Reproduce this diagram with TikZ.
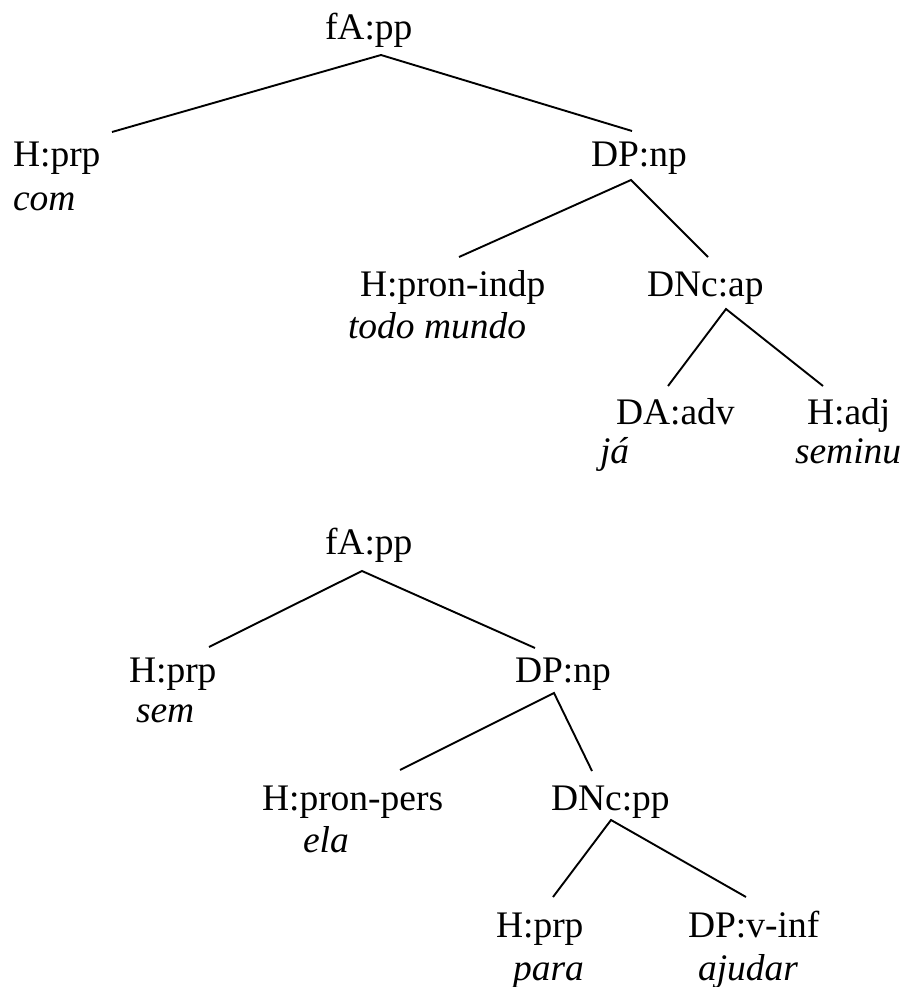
\documentclass[tikz,border=0pt]{standalone}
\usepackage{fontspec}
\setmainfont{Liberation Serif}
\begin{document}
\begin{tikzpicture}[x=1pt,y=-1pt,
  lab/.style={anchor=base west,inner sep=0pt,outer sep=0pt,font=\fontsize{37.5}{45}\selectfont},
  word/.style={lab,font=\fontsize{37.5}{45}\selectfont\itshape},
  edge/.style={line width=1.9pt}]
\useasboundingbox (0,0) rectangle (905,987);
% ---------- top tree ----------
\node[lab] (t1) at (325,40) {fA:pp};
\node[lab] (t2) at (13,167) {H:prp};
\node[word] (t2w) at (13,210) {com};
\node[lab] (t3) at (591,167) {DP:np};
\node[lab] (t4) at (360,296) {H:pron-indp};
\node[word] (t4w) at (348,338) {todo mundo};
\node[lab] (t5) at (647,296) {DNc:ap};
\node[lab] (t6) at (616,424) {DA:adv};
\node[word] (t6w) at (600,463) {já};
\node[lab] (t7) at (807,424) {H:adj};
\node[word] (t7w) at (795,463) {seminu};
\coordinate (t1b) at (381,55);
\coordinate (t2a) at (112,132);
\coordinate (t3a) at (632,131);
\coordinate (t3b) at (631,180);
\coordinate (t4a) at (459,257);
\coordinate (t5a) at (708,257);
\coordinate (t5b) at (726,309);
\coordinate (t6a) at (668,386);
\coordinate (t7a) at (823,386);
\draw[edge] (t2a) -- (t1b) -- (t3a);
\draw[edge] (t4a) -- (t3b) -- (t5a);
\draw[edge] (t6a) -- (t5b) -- (t7a);
% ---------- bottom tree ----------
\node[lab] (b1) at (325,554) {fA:pp};
\node[lab] (b2) at (129,682) {H:prp};
\node[word] (b2w) at (136,722) {sem};
\node[lab] (b3) at (515,682) {DP:np};
\node[lab] (b4) at (262,810) {H:pron-pers};
\node[word] (b4w) at (303,852) {ela};
\node[lab] (b5) at (551,810) {DNc:pp};
\node[lab] (b6) at (496,937) {H:prp};
\node[word] (b6w) at (513,980) {para};
\node[lab] (b7) at (688,937) {DP:v-inf};
\node[word] (b7w) at (698,980) {ajudar};
\coordinate (b1b) at (362,571);
\coordinate (b2a) at (209,647);
\coordinate (b3a) at (535,648);
\coordinate (b3b) at (554,693);
\coordinate (b4a) at (400,770);
\coordinate (b5a) at (592,771);
\coordinate (b5b) at (611,820);
\coordinate (b6a) at (553,897);
\coordinate (b7a) at (746,897);
\draw[edge] (b2a) -- (b1b) -- (b3a);
\draw[edge] (b4a) -- (b3b) -- (b5a);
\draw[edge] (b6a) -- (b5b) -- (b7a);
\end{tikzpicture}
\end{document}
